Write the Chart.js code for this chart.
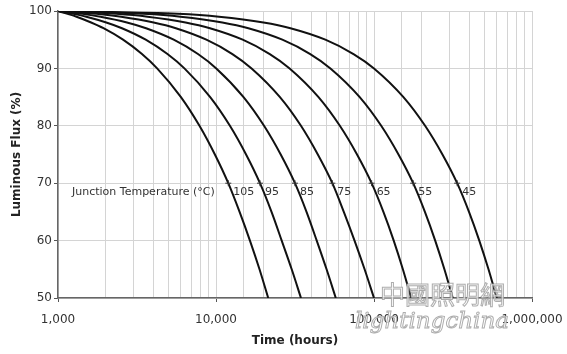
<!DOCTYPE html>
<html>
<head>
<meta charset="utf-8">
<script src="https://cdn.jsdelivr.net/npm/chart.js@4.4.1/dist/chart.umd.min.js"></script>
<style>
  html, body { margin: 0; padding: 0; background: #fff; }
  #wrap { width: 567px; height: 354px; }
</style>
</head>
<body>
<div id="wrap"><canvas id="fluxChart" width="567" height="354"></canvas></div>
<script>
// flux levels (%) that every curve passes through
const fluxLevels = [100, 99.5, 99, 98, 97, 95, 92.5, 90, 85, 80, 75, 70, 65, 60, 55, 50];
const junctionTemps = [105, 95, 85, 75, 65, 55, 45];

// hours at which each curve reaches the levels above
const hours105 = [1000, 1150, 1310, 1620, 1940, 2580, 3400, 4240, 6000, 7860, 9840, 11960, 14100, 16400, 18850, 21400];
const hours95 = [1000, 1250, 1510, 2020, 2540, 3590, 4930, 6310, 9190, 12250, 15500, 18980, 22460, 26050, 30140, 34500];
const hours85 = [1000, 1430, 1860, 2730, 3610, 5400, 7690, 10040, 14940, 20140, 25680, 31600, 37400, 43400, 50100, 57300];
const hours75 = [1000, 1750, 2510, 4030, 5570, 8690, 12700, 16800, 25400, 34500, 44100, 54500, 64400, 75300, 87200, 100000];
const hours65 = [1000, 2340, 3690, 6420, 9160, 14750, 21900, 29240, 44550, 60800, 78100, 96600, 114700, 133300, 152300, 171900];
const hours55 = [1000, 3470, 5960, 10970, 16030, 26300, 39500, 53000, 81200, 111100, 142900, 177000, 210000, 244000, 279000, 315000];
const hours45 = [1000, 5710, 10440, 19970, 29600, 49200, 74200, 100000, 153600, 210600, 271200, 336000, 399300, 463900, 530500, 598800];

const xTickLabels = ['1,000', '10,000', '100,000', '1,000,000'];
const yTickValues = [50, 60, 70, 80, 90, 100];

const allHours = [hours105, hours95, hours85, hours75, hours65, hours55, hours45];

function isPow10(v) {
    const e = Math.log10(v);
    return Math.abs(e - Math.round(e)) < 1e-9;
}

const datasets = allHours.map(function (hours, i) {
    return {
        label: junctionTemps[i] + ' °C',
        data: hours.map(function (t, j) { return { x: t, y: fluxLevels[j] }; }),
        borderColor: '#111',
        borderWidth: 2,
        cubicInterpolationMode: 'monotone',
        pointStyle: 'cross',
        pointBorderColor: '#333',
        pointBorderWidth: 1,
        pointRadius: function (ctx) {
            return ctx.raw && ctx.raw.y === 70 ? 3 : 0;
        },
        pointHoverRadius: 0
    };
});

// text written on the plot next to each curve
const curveLabels = {
    id: 'curveLabels',
    afterDatasetsDraw(chart) {
        const ctx = chart.ctx;
        const xs = chart.scales.x;
        const ys = chart.scales.y;
        const y70 = ys.getPixelForValue(70) + 9;
        const i70 = fluxLevels.indexOf(70);
        ctx.save();
        ctx.font = '11px "DejaVu Sans"';
        ctx.fillStyle = '#333';
        ctx.textBaseline = 'middle';
        ctx.textAlign = 'left';
        ctx.fillText('Junction Temperature (°C)', chart.chartArea.left + 14, y70);
        allHours.forEach(function (hours, i) {
            ctx.fillText(String(junctionTemps[i]), xs.getPixelForValue(hours[i70]) + 5, y70);
        });
        ctx.restore();
    },
    afterDraw(chart) {
        // site watermark
        const ctx = chart.ctx;
        ctx.save();
        ctx.globalAlpha = 0.8;
        ctx.fillStyle = '#fff';
        ctx.strokeStyle = '#999';
        ctx.lineWidth = 1;
        ctx.textBaseline = 'middle';
        ctx.textAlign = 'left';
        ctx.font = '25px "Noto Sans CJK TC"';
        ctx.fillText('中國照明網', 380, 294);
        ctx.strokeText('中國照明網', 380, 294);
        ctx.font = 'italic 23px "DejaVu Serif"';
        ctx.fillText('lightingchina', 355, 322);
        ctx.strokeText('lightingchina', 355, 322);
        ctx.restore();
    }
};

new Chart('fluxChart', {
    type: 'line',
    data: { datasets: datasets },
    options: {
        responsive: false,
        animation: false,
        layout: { padding: { top: 11, right: 35, bottom: 0, left: 0 } },
        plugins: {
            legend: { display: false },
            tooltip: { enabled: false }
        },
        scales: {
            x: {
                type: 'logarithmic',
                min: 1000,
                max: 1000000,
                afterFit: function (scale) {
                    scale.height = 56;
                    scale.paddingLeft = 0;
                    scale.paddingRight = 0;
                },
                border: { display: true, color: '#666', width: 1.5 },
                grid: {
                    color: '#d4d4d4',
                    lineWidth: 1,
                    tickLength: 4,
                    tickColor: function (ctx) {
                        return ctx.tick && isPow10(ctx.tick.value) ? '#555' : 'rgba(0,0,0,0)';
                    }
                },
                ticks: {
                    autoSkip: false,
                    maxRotation: 0,
                    padding: 11,
                    color: '#333',
                    font: { family: 'DejaVu Sans', size: 12 },
                    callback: function (v) {
                        return isPow10(v) ? xTickLabels[Math.round(Math.log10(v)) - 3] : '';
                    }
                },
                title: {
                    display: true,
                    text: 'Time (hours)',
                    color: '#222',
                    font: { family: 'DejaVu Sans', size: 12, weight: 'bold' },
                    padding: { top: 2, bottom: 6 }
                }
            },
            y: {
                min: 50,
                max: 100,
                afterFit: function (scale) {
                    scale.width = 58;
                    scale.paddingTop = 0;
                    scale.paddingBottom = 0;
                },
                afterBuildTicks: function (scale) {
                    scale.ticks = yTickValues.map(function (v) { return { value: v }; });
                },
                border: { display: true, color: '#666', width: 1.5 },
                grid: { color: '#d4d4d4', lineWidth: 1, tickLength: 4, tickColor: '#555' },
                ticks: {
                    padding: 2,
                    color: '#333',
                    font: { family: 'DejaVu Sans', size: 12 }
                },
                title: {
                    display: true,
                    text: 'Luminous Flux (%)',
                    color: '#222',
                    font: { family: 'DejaVu Sans', size: 12, weight: 'bold' },
                    padding: { top: 10, bottom: 4 }
                }
            }
        }
    },
    plugins: [curveLabels]
});
</script>
</body>
</html>
